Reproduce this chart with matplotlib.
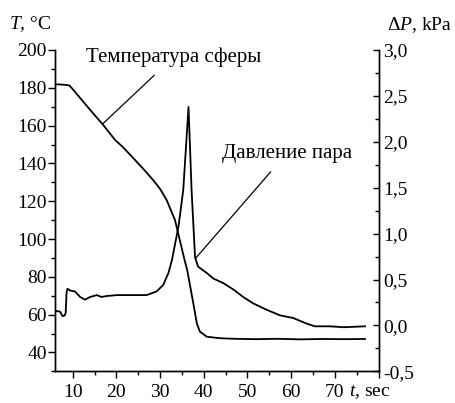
import matplotlib
matplotlib.use('Agg')
import matplotlib.pyplot as plt
from matplotlib.ticker import MultipleLocator, FuncFormatter

plt.rcParams['font.family'] = ['Liberation Serif', 'DejaVu Serif']
plt.rcParams['mathtext.fontset'] = 'custom'
plt.rcParams['mathtext.rm'] = 'Liberation Serif'
plt.rcParams['mathtext.it'] = 'Liberation Serif:italic'

# sphere temperature, degC
t_temp = [5.95, 7.0, 8.0, 9.2, 10.0, 12.0, 14.0, 17.0, 19.7, 21.5, 23.9, 26.0, 28.4,
          30.0, 31.5, 33.4, 34.5, 35.6, 36.2, 37.6, 38.4, 39.1, 40.7, 43.7, 47.0,
          52.0, 57.0, 62.0, 67.0, 72.0, 76.9]
temp = [181.8, 181.8, 181.6, 181.3, 179.3, 173.8, 168.3, 160.3, 152.4, 148.6, 142.7,
        137.5, 131.2, 126.5, 120.6, 110.1, 99.5, 88.9, 83.6, 66.0, 55.4, 51.0, 48.3,
        47.5, 47.2, 47.0, 47.2, 46.9, 47.1, 47.0, 47.1]

# vapour pressure, kPa
t_pres = [5.95, 7.1, 7.7, 8.2, 8.4, 8.6, 8.8, 9.4, 10.5, 11.7, 12.8, 14.0, 15.5,
          16.6, 17.8, 20.1, 26.9, 29.2, 30.7, 31.9, 32.7, 34.2, 35.3, 36.0, 36.5,
          36.8, 37.2, 37.6, 38.0, 38.7, 40.7, 42.2, 44.5, 46.8, 49.0, 51.3, 54.4,
          57.4, 60.5, 63.5, 65.4, 68.9, 72.0, 76.9]
pres = [0.16, 0.15, 0.10, 0.11, 0.14, 0.36, 0.40, 0.38, 0.37, 0.31, 0.28, 0.31, 0.33,
        0.31, 0.32, 0.33, 0.33, 0.37, 0.44, 0.57, 0.71, 1.075, 1.475, 2.0, 2.38,
        2.0, 1.475, 1.11, 0.74, 0.64, 0.57, 0.51, 0.46, 0.39, 0.31, 0.24, 0.17,
        0.11, 0.08, 0.02, -0.01, -0.01, -0.02, -0.01]

fs = 14
fs_note = 15

fig = plt.figure(figsize=(4.56, 4.03), dpi=100)
ax = fig.add_axes([55 / 456, 1 - 371.3 / 403, (378.6 - 55) / 456, (371.3 - 50) / 403])
ax2 = ax.twinx()

ax.plot(t_temp, temp, color='black', lw=1.3)
ax2.plot(t_pres, pres, color='black', lw=1.3)

ax.set_xlim(5.95, 80)
ax.set_ylim(30, 200)
ax2.set_ylim(-0.5, 3.0)

for a in (ax, ax2):
    a.spines['top'].set_visible(False)
    for s in a.spines.values():
        s.set_linewidth(1.0)

ax.xaxis.set_major_locator(MultipleLocator(10))
ax.xaxis.set_minor_locator(MultipleLocator(5))
ax.yaxis.set_major_locator(MultipleLocator(20))
ax.yaxis.set_minor_locator(MultipleLocator(10))
ax2.yaxis.set_major_locator(MultipleLocator(0.5))
ax2.yaxis.set_minor_locator(MultipleLocator(0.25))

ax.xaxis.set_major_formatter(FuncFormatter(lambda v, p: '' if v > 75 else f'{v:.0f}'))
ax2.yaxis.set_major_formatter(FuncFormatter(lambda v, p: f'{v:.1f}'.replace('.', ',')))

ax.tick_params(axis='both', which='major', direction='out', length=5, width=1.0, labelsize=fs)
ax.tick_params(axis='both', which='minor', direction='out', length=3, width=1.0)
ax.tick_params(axis='y', which='major', pad=1)
ax.tick_params(axis='x', which='major', pad=4)
ax2.tick_params(axis='y', which='major', direction='in', length=4, width=1.0, labelsize=fs, pad=3)
ax2.tick_params(axis='y', which='minor', direction='in', length=3, width=1.0)

# curve labels
ax.annotate('Температура сферы', xy=(17.0, 161.2), xytext=(33.1, 196.3),
            fontsize=fs_note, ha='center', va='center',
            arrowprops=dict(arrowstyle='-', lw=0.9, color='black', shrinkA=6, shrinkB=0))
ax2.annotate('Давление пара', xy=(38.1, 0.73), xytext=(59.0, 1.875),
             fontsize=fs_note, ha='center', va='center',
             arrowprops=dict(arrowstyle='-', lw=0.9, color='black', shrinkA=6, shrinkB=0))

# axis titles
fig.text(30 / 456, 1 - 24 / 403, '$T$, °C', fontsize=fs, ha='center', va='center')
fig.text(420 / 456, 1 - 25 / 403, r'$\Delta P$, kPa', fontsize=fs, ha='center', va='center')
fig.text(370 / 456, 1 - 392 / 403, '$t$, sec', fontsize=fs, ha='center', va='center')

fig.savefig('out.png', dpi=100)
